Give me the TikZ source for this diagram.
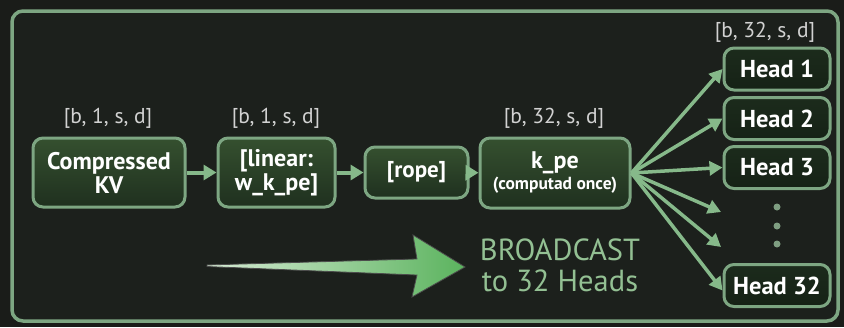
\documentclass[tikz,border=0pt]{standalone}
\usepackage{fontspec}
\setmainfont{PT Sans}
\usetikzlibrary{arrows.meta}

\definecolor{bgc}{HTML}{1A1C19}
\definecolor{panel}{HTML}{1C201C}
\definecolor{frameg}{HTML}{7DA682}
\definecolor{edgeg}{HTML}{86B98A}
\definecolor{boxtop}{HTML}{35502F}
\definecolor{boxbot}{HTML}{1F301F}
\definecolor{lblgray}{HTML}{D2D2D2}
\definecolor{castg}{HTML}{93C093}
\definecolor{bigA}{HTML}{5BB35E}
\definecolor{bigB}{HTML}{D6EBD4}

\tikzset{
  opbox/.style={draw=frameg, line width=3pt, rounded corners=10pt,
    top color=boxtop, bottom color=boxbot, text=white, align=center,
    inner sep=2pt, font=\bfseries\fontsize{24}{25}\selectfont},
  headbox/.style={opbox, minimum width=106pt, minimum height=42pt,
    top color=boxbot!90!black, bottom color=boxbot!70!black},
  dimlbl/.style={text=lblgray, font=\fontsize{21.5}{23}\selectfont, inner sep=0pt},
  flow/.style={draw=edgeg, line width=4pt,
    -{Triangle[length=13pt,width=15pt]}},
  fan/.style={draw=edgeg, line width=3.5pt,
    -{Triangle[length=13pt,width=14pt]}},
  ellip/.style={circle, fill=frameg!80!gray, inner sep=0pt, minimum size=7pt},
}

\begin{document}
\begin{tikzpicture}[x=1pt,y=-1pt]
  \fill[bgc] (0,0) rectangle (844,327);
  \useasboundingbox (0,0) rectangle (844,327);

  % outer panel
  \draw[frameg, line width=3.5pt, fill=panel, rounded corners=11pt]
    (12,11) rectangle (838,321);

  % pipeline boxes
  \node[opbox, minimum width=152pt, minimum height=69pt] (ckv) at (109,172.5) {Compressed\\[-1pt]KV};
  \node[opbox, minimum width=117pt, minimum height=69pt] (lin) at (276.5,172.5) {[linear:\\[-1pt]w\_k\_pe]};
  \node[opbox, minimum width=103pt, minimum height=51pt, font=\bfseries\fontsize{23}{25}\selectfont] (rope) at (416.5,172.5) {[rope]};
  \node[opbox, minimum width=150pt, minimum height=70pt] (kpe) at (555,173)
    {{\fontsize{24}{24}\selectfont k\_pe}\\[-4pt]{\fontsize{17.5}{19}\selectfont (computad once)}};

  % heads
  \node[headbox, font=\bfseries\fontsize{24.5}{26}\selectfont] (h1) at (777,69) {Head 1};
  \node[headbox, font=\bfseries\fontsize{24.5}{26}\selectfont] (h2) at (777,118.5) {Head 2};
  \node[headbox, font=\bfseries\fontsize{24.5}{26}\selectfont] (h3) at (777,167.5) {Head 3};
  \node[headbox, font=\bfseries\fontsize{24.5}{26}\selectfont] (h32) at (777,285.5) {Head 32};

  % shape labels
  \node[dimlbl] (l1) at (108,118) {[b, 1, s, d]};
  \node[dimlbl] (l2) at (276,118) {[b, 1, s, d]};
  \node[dimlbl] (l3) at (554,118) {[b, 32, s, d]};
  \node[dimlbl] (l4) at (765,32) {[b, 32, s, d]};

  % vertical ellipsis
  \node[ellip] (e1) at (777,207) {};
  \node[ellip] (e2) at (777,226) {};
  \node[ellip] (e3) at (777,244) {};

  % chain connectors
  \draw[flow] (ckv) -- (lin);
  \draw[flow] (lin) -- (rope);
  \draw[flow] (rope) -- (kpe);

  % broadcast fan
  \coordinate (src) at (kpe.east);
  \coordinate (d1) at (721,212);
  \coordinate (d2) at (721,247);
  \draw[fan] (src) -- (h1.west);
  \draw[fan] (src) -- (h2.west);
  \draw[fan] (src) -- (h3.west);
  \draw[fan] (src) -- (d1);
  \draw[fan] (src) -- (d2);
  \draw[fan] (src) -- ([yshift=-5pt]h32.west);

  % big broadcast arrow
  \shade[left color=bigB, right color=bigA, draw=black!70, line width=0.8pt]
    (207,265) -- (417,259) -- (413,235) -- (465,267) -- (412,297) -- (417,275) -- (207,266.5) -- cycle;

  \node[text=castg, align=center, font=\fontsize{30.5}{31}\selectfont] (cast) at (560,265)
    {BROADCAST\\to 32 Heads};
\end{tikzpicture}
\end{document}
